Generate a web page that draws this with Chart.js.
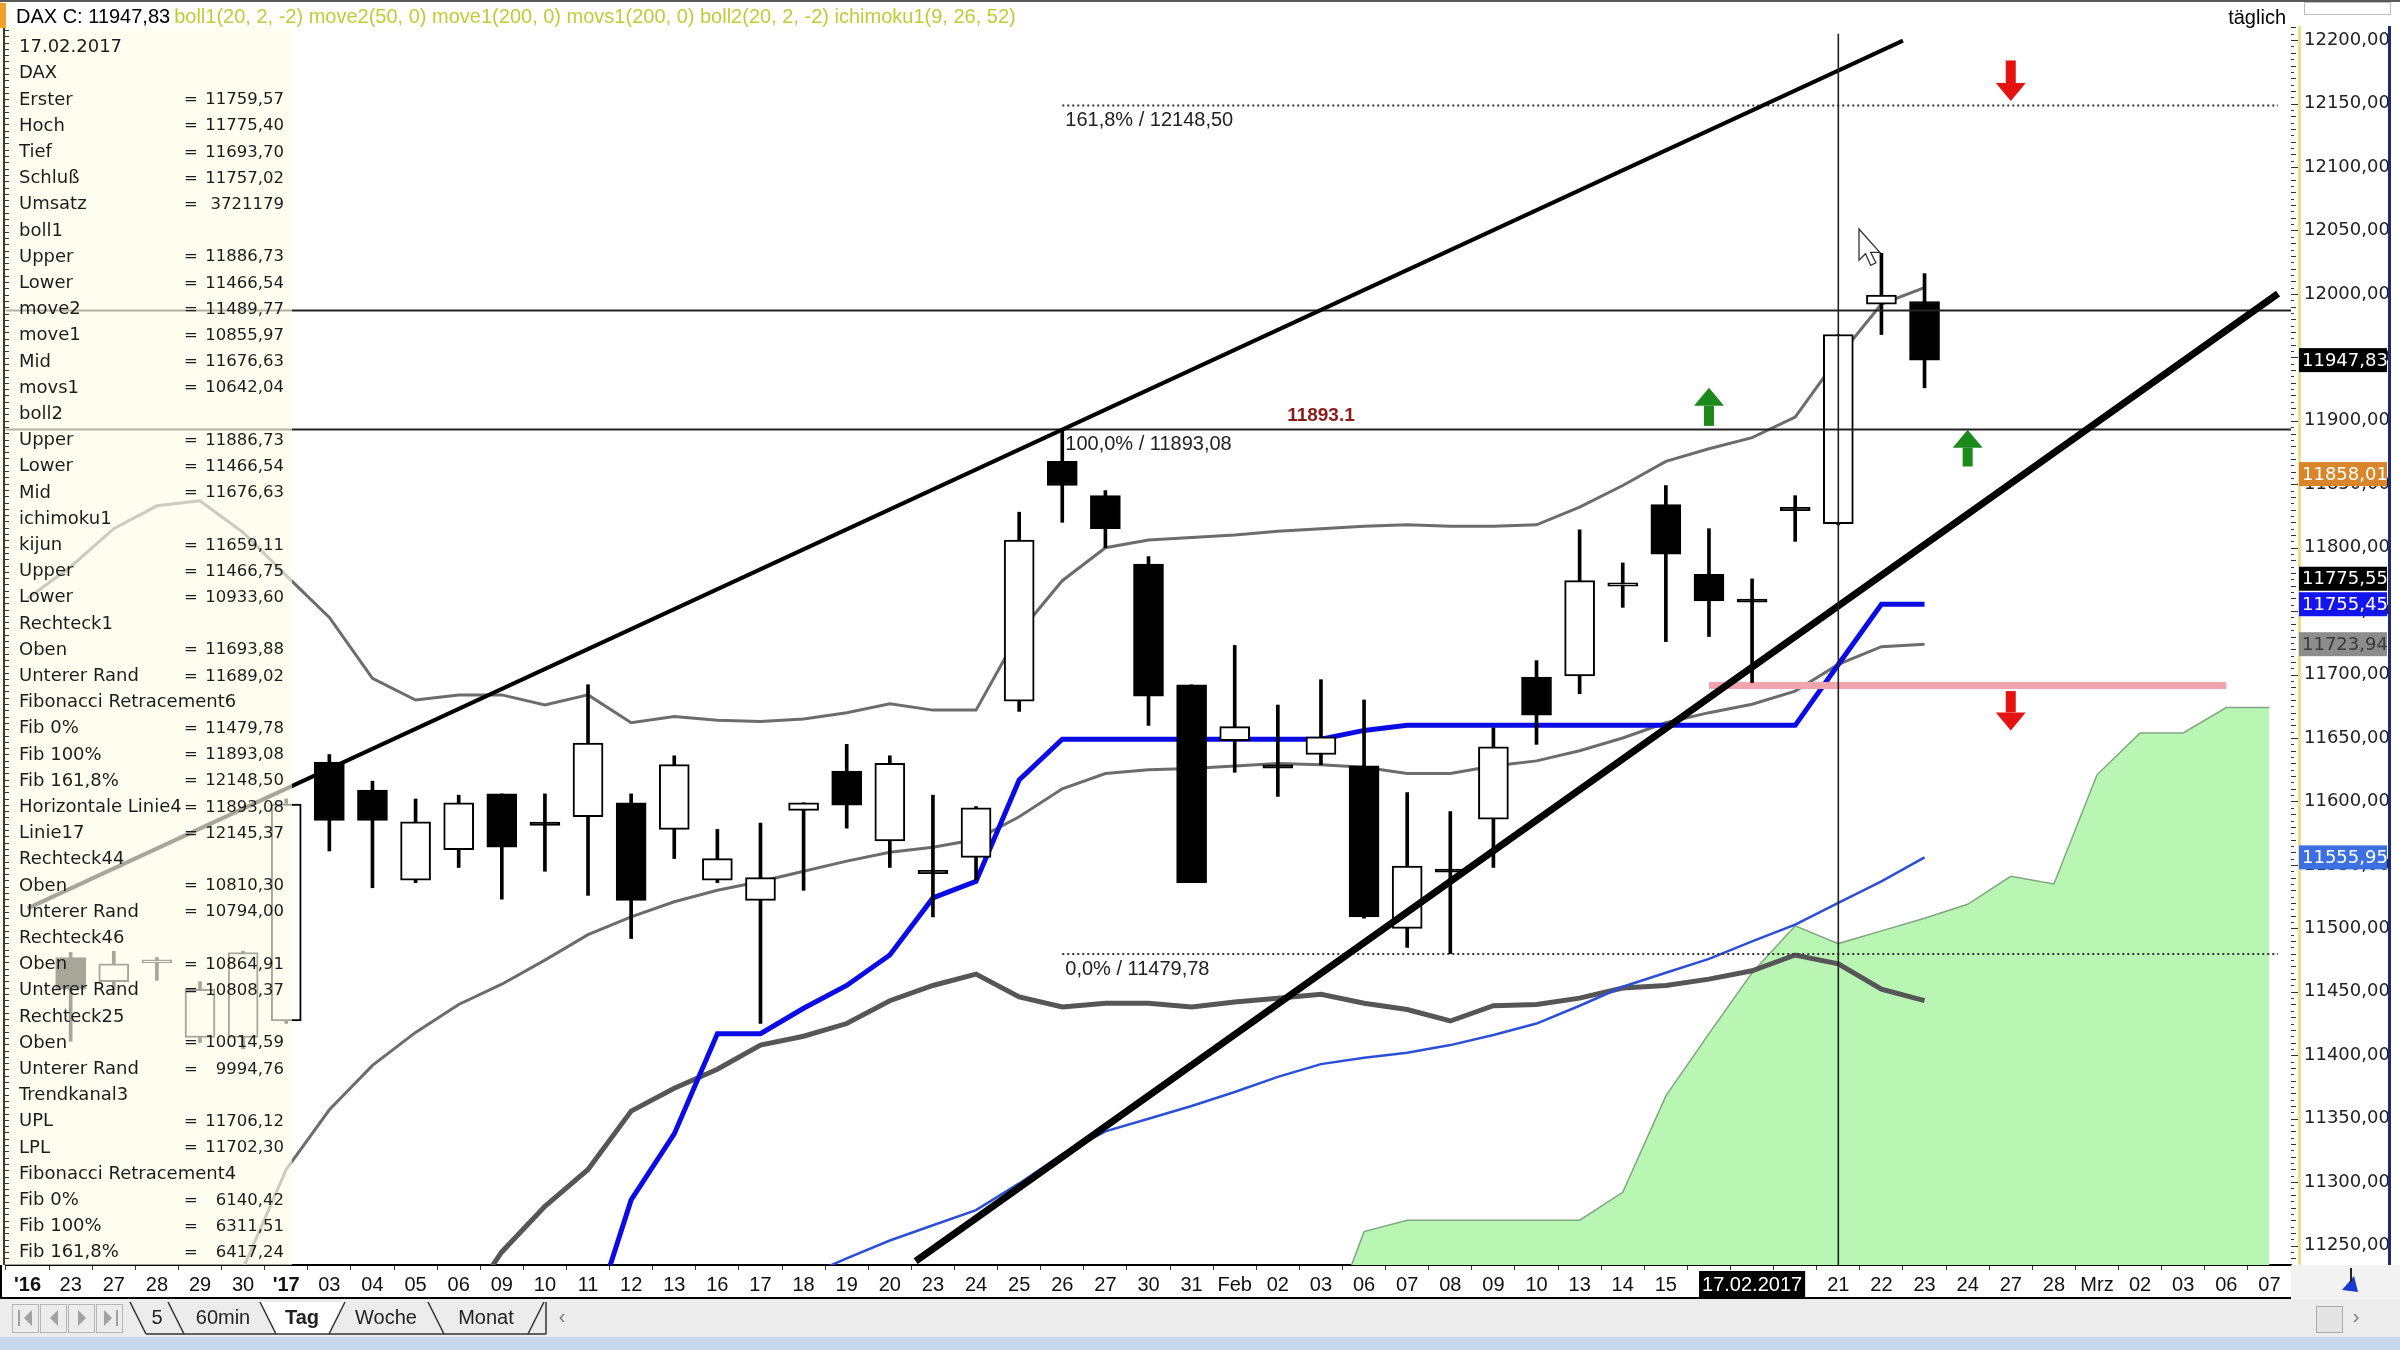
<!DOCTYPE html>
<html>
<head>
<meta charset="utf-8">
<title>DAX täglich</title>
<script src="https://cdn.jsdelivr.net/npm/chart.js@4.4.1/dist/chart.umd.min.js"></script>
<style>
  html, body { margin: 0; padding: 0; background: #fff; }
  #wrap { width: 2400px; height: 1350px; }
</style>
</head>
<body>
<div id="wrap"><canvas id="chart" width="2400" height="1350"></canvas></div>
<script>
// one label per trading day (index 0 = 22.12.2016)
const xLabels = ["'16","23","27","28","29","30","'17","03","04","05","06","09","10","11","12","13",
  "16","17","18","19","20","23","24","25","26","27","30","31","Feb","02","03","06","07","08","09","10",
  "13","14","15","","17.02.2017","","21","22","23","24","27","28","Mrz","02","03","06","07"];

const yTicks = [11250, 11300, 11350, 11400, 11450, 11500, 11550, 11600, 11650, 11700,
  11750, 11800, 11850, 11900, 11950, 12000, 12050, 12100, 12150, 12200];

// daily candles, index matches xLabels
const candleOpen = [null, 11477, 11458, 11473, 11414, 11414, 11427, 11631, 11609, 11538, 11562,
  11606, 11583, 11588, 11599, 11578, 11538, 11522, 11593, 11624, 11569, 11545, 11556, 11679, 11868,
  11841, 11787, 11692, 11648, 11628, 11637, 11628, 11500, 11546, 11586, 11698, 11699, 11770, 11834,
  11779, 11759.57, 11831, 11819, 11992, 11994];
const candleHigh = [null, 11481, 11482, 11477, 11458, 11482, 11602, 11637, 11616, 11602, 11605,
  11606, 11606, 11692, 11606, 11636, 11578, 11583, 11599, 11645, 11636, 11605, 11596, 11828, 11893,
  11845, 11793, 11692, 11723, 11676, 11696, 11680, 11607, 11592, 11658, 11711, 11814, 11788, 11849,
  11815, 11775.40, 11841, 11968, 12032, 12016];
const candleLow = [null, 11411, 11452, 11459, 11410, 11405, 11425, 11561, 11532, 11536, 11548,
  11523, 11545, 11526, 11492, 11555, 11536, 11425, 11530, 11579, 11548, 11509, 11538, 11671, 11820,
  11800, 11660, 11536, 11623, 11604, 11629, 11508, 11485, 11480, 11548, 11645, 11685, 11753, 11726,
  11730, 11693.70, 11805, 11818, 11968, 11926];
const candleClose = [null, 11452, 11472, 11475, 11452, 11481, 11598, 11585, 11585, 11584, 11599,
  11564, 11582, 11646, 11522, 11629, 11555, 11540, 11599, 11597, 11630, 11544, 11595, 11806, 11849,
  11815, 11683, 11536, 11659, 11627, 11651, 11509, 11549, 11545, 11643, 11668, 11774, 11772, 11795,
  11758, 11757.02, 11830, 11968, 11999, 11947.83];

// indicators
const bollUpper = [11760, 11785, 11815, 11833, 11837, 11812, 11778, 11745, 11697, 11680,
  11684, 11684, 11676, 11684, 11662, 11667, 11664, 11663, 11665, 11670,
  11677, 11672, 11672, 11733, 11774, 11800, 11806, 11808, 11810, 11813,
  11815, 11817, 11818, 11817, 11817, 11818, 11832, 11849, 11868, 11878,
  11886.73, 11903, 11950, 11992, 12005];
const bollMid = [null, null, null, null, 11175, 11232, 11310, 11357, 11392, 11418,
  11440, 11456, 11475, 11495, 11509, 11521, 11530, 11537, 11545, 11553,
  11560, 11564, 11570, 11588, 11610, 11622, 11625, 11626, 11628, 11630,
  11629, 11627, 11622, 11622, 11628, 11632, 11640, 11650, 11662, 11670,
  11676.63, 11687, 11708, 11722, 11723.94];
const bollLower = [null, null, null, null, null, null, null, null, null, null,
  11195, 11245, 11281, 11310, 11356, 11374, 11389, 11408, 11415, 11425,
  11443, 11455, 11464, 11446, 11438, 11441, 11441, 11438, 11442, 11445,
  11448, 11441, 11436, 11427, 11439, 11440, 11445, 11453, 11455, 11460,
  11466.54, 11479, 11472, 11452, 11443];
const kijun = [null, null, null, null, null, null, null, null, null, null,
  null, null, null, 11180, 11286, 11338, 11417, 11417, 11437, 11455,
  11479, 11524, 11537, 11617, 11649, 11649, 11649, 11649, 11649, 11649,
  11649, 11656, 11660, 11660, 11660, 11660, 11660, 11660, 11660, 11660,
  11660, 11660, 11708, 11755.45, 11755.45];
const move2 = [null, null, null, null, null, null, null, null, null, null,
  null, null, null, null, null, null, null, null, 11225, 11240,
  11254, 11266, 11278, 11299, 11322, 11340, 11350, 11360, 11371, 11383,
  11393, 11398, 11402, 11408, 11416, 11425, 11439, 11454, 11465, 11476,
  11489.77, 11503, 11520, 11537, 11555.95];
const cloudTop = [null, null, null, null, null, null, null, null, null, null,
  null, null, null, null, null, null, null, null, null, null,
  null, null, null, null, null, null, null, null, null, null,
  11170, 11261, 11270, 11270, 11270, 11270, 11270, 11292, 11368, 11417,
  11465, 11502, 11488, 11498, 11508, 11519, 11541, 11535, 11621, 11654,
  11654, 11674, 11674];

// drawn objects (day index, price)
const channelUpperX = [0, 43.5];
const channelUpperY = [11515.8, 12199.6];
const channelLowerX = [20.6, 52.2];
const channelLowerY = [11237.8, 12000.2];
const horizLines = [11893.08, 11987];
const fibLevels = [12148.50, 11479.78];
const fibStartX = 24;
const rect1X = [39, 51];
const rect1Y = 11691.45;
const crossX = 42;
const arrowsUp = [[39, 11896, 11926], [45, 11864, 11893]];
const arrowsDown = [[46, 12184, 12152], [46, 11687, 11656]];
const tagValues = [11947.83, 11858.01, 11775.55, 11755.45, 11723.94, 11555.95];
const tagColors = [['#000', '#fff'], ['#d9862a', '#fff'], ['#000', '#fff'], ['#1414ee', '#fff'],
  ['#8c8c8c', '#3a3a3a'], ['#3b6fe2', '#fff']];

const panelRows = [
  ['17.02.2017'], ['DAX'], ['Erster', '11759,57'], ['Hoch', '11775,40'], ['Tief', '11693,70'],
  ['Schluß', '11757,02'], ['Umsatz', '3721179'], ['boll1'], ['Upper', '11886,73'], ['Lower', '11466,54'],
  ['move2', '11489,77'], ['move1', '10855,97'], ['Mid', '11676,63'], ['movs1', '10642,04'], ['boll2'],
  ['Upper', '11886,73'], ['Lower', '11466,54'], ['Mid', '11676,63'], ['ichimoku1'], ['kijun', '11659,11'],
  ['Upper', '11466,75'], ['Lower', '10933,60'], ['Rechteck1'], ['Oben', '11693,88'], ['Unterer Rand', '11689,02'],
  ['Fibonacci Retracement6'], ['Fib 0%', '11479,78'], ['Fib 100%', '11893,08'], ['Fib 161,8%', '12148,50'],
  ['Horizontale Linie4', '11893,08'], ['Linie17', '12145,37'], ['Rechteck44'], ['Oben', '10810,30'],
  ['Unterer Rand', '10794,00'], ['Rechteck46'], ['Oben', '10864,91'], ['Unterer Rand', '10808,37'],
  ['Rechteck25'], ['Oben', '10014,59'], ['Unterer Rand', '9994,76'], ['Trendkanal3'], ['UPL', '11706,12'],
  ['LPL', '11702,30'], ['Fibonacci Retracement4'], ['Fib 0%', '6140,42'], ['Fib 100%', '6311,51'],
  ['Fib 161,8%', '6417,24']
];

const fmt = v => v.toFixed(2).replace('.', ',');

function toPoints(arr) {
  const pts = [];
  arr.forEach((v, i) => { if (v !== null) pts.push({ x: i, y: v }); });
  return pts;
}

// candle bars
const wickData = [], bodyData = [], bodyColors = [];
candleOpen.forEach((o, i) => {
  if (o === null) return;
  const c = candleClose[i];
  wickData.push({ x: i, y: [candleLow[i], candleHigh[i]] });
  let lo = Math.min(o, c), hi = Math.max(o, c);
  if (hi - lo < 2.5) { const m = (hi + lo) / 2; lo = m - 1.3; hi = m + 1.3; }
  bodyData.push({ x: i, y: [lo, hi] });
  bodyColors.push(c >= o ? '#ffffff' : '#000000');
});

function lineSet(data, color, width, order, extra) {
  return Object.assign({
    type: 'line', data: data, borderColor: color, borderWidth: width, pointRadius: 0,
    fill: false, tension: 0, order: order
  }, extra || {});
}

const datasets = [
  lineSet(toPoints(cloudTop), '#7fa67f', 1.5, 20, { fill: 'start', backgroundColor: '#b9f6b3' }),
  lineSet(toPoints(bollUpper), '#6c6c6c', 3, 15),
  lineSet(toPoints(bollMid), '#6c6c6c', 3, 15),
  lineSet(toPoints(bollLower), '#565656', 5, 15),
  lineSet(toPoints(move2), '#2b4fd6', 2.5, 14),
  lineSet(toPoints(kijun), '#0b0be6', 5, 13),
  lineSet([{ x: rect1X[0], y: rect1Y }, { x: rect1X[1], y: rect1Y }], '#f2a4ae', 7, 12),
  lineSet([{ x: fibStartX, y: fibLevels[0] }, { x: 52.2, y: fibLevels[0] }], '#333', 2, 11, { borderDash: [2, 3] }),
  lineSet([{ x: fibStartX, y: fibLevels[1] }, { x: 52.2, y: fibLevels[1] }], '#333', 2, 11, { borderDash: [2, 3] }),
  { type: 'bar', data: wickData, backgroundColor: '#000', borderWidth: 0, barThickness: 3, grouped: false, order: 6 },
  { type: 'bar', data: bodyData, backgroundColor: bodyColors, borderColor: '#000', borderWidth: 2,
    borderSkipped: false, barThickness: 30, grouped: false, order: 5 },
  lineSet([{ x: -0.5, y: horizLines[0] }, { x: 52.5, y: horizLines[0] }], '#222', 2, 3),
  lineSet([{ x: -0.5, y: horizLines[1] }, { x: 52.5, y: horizLines[1] }], '#222', 2, 3),
  lineSet(channelUpperX.map((x, k) => ({ x: x, y: channelUpperY[k] })), '#000', 4, 2),
  lineSet(channelLowerX.map((x, k) => ({ x: x, y: channelLowerY[k] })), '#000', 7, 2),
  lineSet([{ x: crossX, y: 11234.7 }, { x: crossX, y: 12205 }], '#222', 1.6, 1)
];

// semi transparent data window on the left
const panelPlugin = {
  id: 'panel',
  afterDatasetsDraw(chart) {
    const c = chart.ctx;
    c.save();
    c.fillStyle = 'rgba(253,253,232,0.66)';
    c.fillRect(0, 26, 292, 1239);
    c.fillStyle = '#3a3a3a';
    c.fillRect(3, 26, 2, 1239);
    for (let y = 30; y < 1263; y += 6.3) {
      c.fillRect(5, Math.round(y), 4, 1);
    }
    c.beginPath(); c.rect(0, 26, 292, 1237); c.clip();
    c.fillStyle = '#1c1c1c';
    c.textBaseline = 'middle';
    panelRows.forEach((row, k) => {
      const y = 47.5 + k * 26.2;
      c.textAlign = 'left';
      c.font = '18px "DejaVu Sans"';
      c.fillText(row[0], 19, y);
      if (row[1] !== undefined) {
        c.font = '16.5px "DejaVu Sans"';
        c.fillText('=', 184, y);
        c.textAlign = 'right';
        c.fillText(row[1], 284, y);
      }
    });
    c.restore();
  }
};

const decoPlugin = {
  id: 'deco',
  beforeDraw(chart) {
    const c = chart.ctx;
    c.save();
    c.fillStyle = '#fff';
    c.fillRect(0, 0, chart.width, chart.height);
    c.restore();
  },
  afterDraw(chart) {
    const c = chart.ctx;
    const xs = chart.scales.x, ys = chart.scales.y;
    const area = chart.chartArea;
    c.save();

    // title bar
    c.fillStyle = '#5a5a5a'; c.fillRect(0, 0, 2400, 2);
    c.fillStyle = '#f0a12c'; c.fillRect(0, 3, 6, 25);
    c.textBaseline = 'middle'; c.textAlign = 'left';
    c.font = '20px "Liberation Sans"';
    c.fillStyle = '#000';
    const t1 = 'DAX C: 11947,83';
    c.fillText(t1, 16, 17);
    const w1 = c.measureText(t1).width;
    c.fillStyle = '#c2cb36';
    c.fillText('boll1(20, 2, -2) move2(50, 0) move1(200, 0) movs1(200, 0) boll2(20, 2, -2) ichimoku1(9, 26, 52)', 16 + w1 + 4, 17);
    c.fillStyle = '#000'; c.textAlign = 'right';
    c.fillText('täglich', 2286, 18);
    c.strokeStyle = '#bdbdbd'; c.lineWidth = 1;
    c.strokeRect(2304.5, 2.5, 86, 12);

    // right axis frame, ruler and value tags
    c.fillStyle = '#ece08e'; c.fillRect(area.right + 7, area.top, 3, area.bottom - area.top);
    c.fillStyle = '#1b2a7a'; c.fillRect(2388, area.top, 3, area.bottom - area.top);
    c.fillStyle = '#333';
    for (let v = 11235; v <= 12210; v += 5) {
      const y = Math.round(ys.getPixelForValue(v));
      const len = v % 50 === 0 ? 7 : (v % 10 === 0 ? 5 : 3);
      c.fillRect(area.right, y, len, 1);
    }
    c.font = '18px "DejaVu Sans"'; c.textAlign = 'left';
    tagValues.forEach((v, k) => {
      const y = ys.getPixelForValue(v);
      c.fillStyle = tagColors[k][0];
      c.fillRect(area.right + 8, y - 12, 88, 24);
      c.fillStyle = tagColors[k][1];
      c.fillText(fmt(v), area.right + 11, y + 1);
    });

    // fibonacci / line labels
    c.font = '20px "Liberation Sans"'; c.fillStyle = '#222'; c.textAlign = 'left';
    const fx = xs.getPixelForValue(fibStartX) + 3;
    c.fillText('161,8% / 12148,50', fx, ys.getPixelForValue(fibLevels[0]) + 15);
    c.fillText('100,0% / 11893,08', fx, ys.getPixelForValue(horizLines[0]) + 15);
    c.fillText('0,0% / 11479,78', fx, ys.getPixelForValue(fibLevels[1]) + 15);
    c.font = 'bold 19px "Liberation Sans"'; c.fillStyle = '#8a1b1b'; c.textAlign = 'center';
    c.fillText('11893.1', xs.getPixelForValue(30), ys.getPixelForValue(horizLines[0]) - 14);

    // signal arrows
    const drawArrow = (a, color) => {
      const x = xs.getPixelForValue(a[0]);
      const yb = ys.getPixelForValue(a[1]), yt = ys.getPixelForValue(a[2]);
      const dir = yt < yb ? -1 : 1;
      const head = 18 * dir;
      c.fillStyle = color;
      c.fillRect(x - 5, Math.min(yb, yt - head), 10, Math.abs(yt - head - yb));
      c.beginPath();
      c.moveTo(x - 15, yt - head); c.lineTo(x + 15, yt - head); c.lineTo(x, yt); c.closePath();
      c.fill();
    };
    arrowsUp.forEach(a => drawArrow(a, '#1b8a1b'));
    arrowsDown.forEach(a => drawArrow(a, '#e51212'));

    // mouse pointer
    c.save();
    c.translate(1859, 229); c.scale(1.3, 1.3);
    c.beginPath();
    c.moveTo(0, 0); c.lineTo(0, 24); c.lineTo(5, 19); c.lineTo(9, 28); c.lineTo(13, 26);
    c.lineTo(9, 18); c.lineTo(16, 18); c.closePath();
    c.fillStyle = '#fff'; c.fill();
    c.strokeStyle = '#333'; c.lineWidth = 1; c.stroke();
    c.restore();

    // x axis frame
    c.fillStyle = '#000';
    c.fillRect(0, 1297, area.right, 2);
    c.fillRect(0, area.bottom, 2, 1299 - area.bottom);
    c.fillStyle = '#f2f2f2';
    c.fillRect(area.right, area.bottom, 2400 - area.right, 34);
    c.fillStyle = '#1a3bd0';
    c.beginPath(); c.moveTo(2342, 1290); c.lineTo(2354, 1276); c.lineTo(2358, 1292); c.closePath(); c.fill();
    c.fillStyle = '#222'; c.fillRect(2350, 1268, 2, 14);

    // bottom tab bar
    c.fillStyle = '#ececec'; c.fillRect(0, 1299, 2400, 38);
    c.fillStyle = '#c8d8ec'; c.fillRect(0, 1337, 2400, 13);
    c.strokeStyle = '#b5b5b5'; c.lineWidth = 1;
    for (let k = 0; k < 4; k++) c.strokeRect(12.5 + k * 28, 1304.5, 26, 28);
    c.fillStyle = '#a2a2a2';
    const tri = (x, left) => {
      c.beginPath();
      if (left) { c.moveTo(x + 4, 1310); c.lineTo(x - 4, 1318); c.lineTo(x + 4, 1326); }
      else { c.moveTo(x - 4, 1310); c.lineTo(x + 4, 1318); c.lineTo(x - 4, 1326); }
      c.closePath(); c.fill();
    };
    c.fillRect(18, 1310, 2, 16); tri(28, true); tri(54, true); tri(82, false); tri(108, false);
    c.fillRect(116, 1310, 2, 16);
    c.fillStyle = '#fff';
    c.beginPath(); c.moveTo(260, 1302); c.lineTo(276, 1334); c.lineTo(329, 1334); c.lineTo(345, 1302); c.closePath(); c.fill();
    c.strokeStyle = '#333'; c.lineWidth = 1.5;
    [[130, 1], [168, 1], [260, 1], [329, -1], [428, 1], [528, -1]].forEach(s => {
      c.beginPath();
      if (s[1] > 0) { c.moveTo(s[0], 1302); c.lineTo(s[0] + 16, 1334); }
      else { c.moveTo(s[0], 1334); c.lineTo(s[0] + 16, 1302); }
      c.stroke();
    });
    c.beginPath(); c.moveTo(146, 1334); c.lineTo(546, 1334); c.moveTo(546, 1334); c.lineTo(546, 1302); c.stroke();
    c.fillStyle = '#222'; c.textAlign = 'center'; c.textBaseline = 'middle';
    c.font = '20px "Liberation Sans"';
    c.fillText('5', 157, 1318);
    c.fillText('60min', 223, 1318);
    c.fillText('Woche', 386, 1318);
    c.fillText('Monat', 486, 1318);
    c.font = 'bold 20px "Liberation Sans"';
    c.fillText('Tag', 302, 1318);
    c.font = '20px "Liberation Sans"'; c.fillStyle = '#777';
    c.fillText('‹', 562, 1317);
    c.fillText('›', 2356, 1317);
    c.fillStyle = '#e4e4e4'; c.fillRect(2316, 1306, 26, 26);
    c.strokeStyle = '#aaa'; c.lineWidth = 1; c.strokeRect(2316.5, 1306.5, 26, 26);
    c.restore();
  }
};

Chart.defaults.font.family = 'Liberation Sans';

new Chart(document.getElementById('chart').getContext('2d'), {
  type: 'bar',
  data: { datasets: datasets },
  options: {
    responsive: false,
    animation: false,
    devicePixelRatio: 1,
    layout: { padding: { left: 6, top: 26, right: 0, bottom: 51 } },
    plugins: { legend: { display: false }, tooltip: { enabled: false } },
    scales: {
      x: {
        type: 'linear', min: -0.5, max: 52.5, offset: false,
        afterBuildTicks: s => { s.ticks = xLabels.map((_, i) => ({ value: i })); },
        afterFit: s => { s.height = 34; },
        ticks: {
          autoSkip: false, maxRotation: 0, minRotation: 0, padding: 3,
          callback: v => xLabels[v],
          color: ctx => ctx.index === 40 ? '#fff' : '#111',
          font: ctx => ({ family: 'Liberation Sans', size: 20,
            weight: String(xLabels[ctx.index] || '').startsWith("'") ? 'bold' : 'normal' }),
          showLabelBackdrop: true,
          backdropColor: ctx => ctx.index === 40 ? '#000' : 'rgba(0,0,0,0)',
          backdropPadding: { x: 3, y: 2 }
        },
        grid: { drawOnChartArea: false, drawTicks: true, tickLength: 5, color: '#333' },
        border: { display: true, color: '#000', width: 2 }
      },
      y: {
        type: 'linear', position: 'right', min: 11234.7, max: 12211.15,
        afterBuildTicks: s => { s.ticks = yTicks.map(v => ({ value: v })); },
        afterFit: s => { s.width = 109; },
        ticks: { callback: v => fmt(v), font: { family: 'DejaVu Sans', size: 18 }, color: '#222', padding: 13 },
        grid: { drawOnChartArea: false, drawTicks: false },
        border: { display: false }
      }
    }
  },
  plugins: [panelPlugin, decoPlugin]
});
</script>
</body>
</html>
